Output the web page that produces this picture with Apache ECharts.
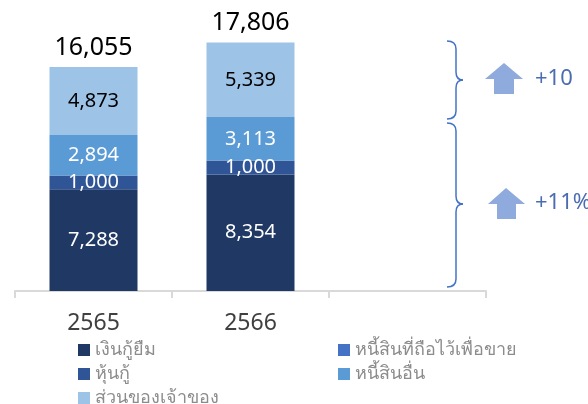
<!DOCTYPE html>
<html>
<head>
<meta charset="utf-8">
<script src="https://cdn.jsdelivr.net/npm/echarts@6/dist/echarts.min.js"></script>
<style>
  html, body { margin: 0; padding: 0; background: #fff; }
  #debt-chart { width: 588px; height: 404px; }
</style>
</head>
<body>
<div id="debt-chart"></div>
<script>
const years = ['2565', '2566', ''];
const loans = [7288, 8354];
const heldForSale = [0, 0];
const bonds = [1000, 1000];
const otherLiab = [2894, 3113];
const equity = [4873, 5339];
const totals = [16055, 17806];
const changeLabels = ['+10', '+11%'];

const FONT = "'Noto Sans', Roboto, sans-serif";
const fmt = (v) => Number(v).toLocaleString('en-US');

const chart = echarts.init(document.getElementById('debt-chart'));

function seg(name, data, color, labelColor, showLabel = true) {
  return {
    name,
    type: 'bar',
    stack: 'total',
    barWidth: 88,
    data,
    itemStyle: { color },
    label: {
      show: showLabel,
      position: 'inside',
      color: labelColor,
      fontSize: 20,
      fontFamily: FONT,
      formatter: (p) => fmt(p.value),
    },
  };
}

// curly brace on the right: x = stem, top/mid/bottom y
function brace(x, top, mid, bottom) {
  const st = { stroke: '#4472c4', lineWidth: 1.5, fill: 'none' };
  const r = 8;
  return [
    { type: 'bezierCurve', shape: { x1: x - 9, y1: top, cpx1: x, cpy1: top, x2: x, y2: top + r }, style: st },
    { type: 'line', shape: { x1: x, y1: top + r, x2: x, y2: mid - r }, style: st },
    { type: 'bezierCurve', shape: { x1: x, y1: mid - r, cpx1: x, cpy1: mid, x2: x + 7, y2: mid }, style: st },
    { type: 'bezierCurve', shape: { x1: x + 7, y1: mid, cpx1: x, cpy1: mid, x2: x, y2: mid + r }, style: st },
    { type: 'line', shape: { x1: x, y1: mid + r, x2: x, y2: bottom - r }, style: st },
    { type: 'bezierCurve', shape: { x1: x, y1: bottom - r, cpx1: x, cpy1: bottom, x2: x - 9, y2: bottom }, style: st },
  ];
}

// one legend per entry so the two columns line up like the original
function legendItem(name, left, top) {
  return {
    left,
    top,
    padding: 0,
    itemWidth: 12,
    itemHeight: 12,
    icon: 'rect',
    data: [name],
    textStyle: { color: '#8c8c8c', fontSize: 18, lineHeight: 12, fontFamily: FONT },
  };
}

chart.setOption({
  animation: false,
  grid: { left: 15, right: 102, top: 12, bottom: 113 },
  xAxis: {
    type: 'category',
    data: years,
    axisLine: { lineStyle: { color: '#d9d9d9', width: 2 } },
    axisTick: { show: true, length: 7, lineStyle: { color: '#d9d9d9', width: 2 } },
    axisLabel: {
      color: '#404040',
      fontSize: 23,
      fontFamily: FONT,
      margin: 21,
    },
  },
  yAxis: {
    type: 'value',
    min: 0,
    max: 20000,
    show: false,
  },
  legend: [
    legendItem('เงินกู้ยืม', 78, 341),
    legendItem('หุ้นกู้', 78, 365),
    legendItem('ส่วนของเจ้าของ', 78, 389),
    legendItem('หนี้สินที่ถือไว้เพื่อขาย', 338, 341),
    legendItem('หนี้สินอื่น', 338, 365),
  ],
  series: [
    seg('เงินกู้ยืม', loans, '#1f3864', '#fff'),
    seg('หนี้สินที่ถือไว้เพื่อขาย', heldForSale, '#4472c4', '#fff', false),
    seg('หุ้นกู้', bonds, '#2f5597', '#fff'),
    seg('หนี้สินอื่น', otherLiab, '#5b9bd5', '#fff'),
    seg('ส่วนของเจ้าของ', equity, '#9dc3e6', '#000'),
    {
      name: 'รวม',
      type: 'bar',
      stack: 'total',
      barWidth: 88,
      data: totals.map(() => 0),
      itemStyle: { color: 'transparent' },
      label: {
        show: true,
        position: 'top',
        distance: 7,
        color: '#000',
        fontSize: 25,
        fontFamily: FONT,
        formatter: (p) => fmt(totals[p.dataIndex]),
      },
    },
  ],
  graphic: [
    ...brace(456, 41, 80, 119),
    ...brace(456, 123, 204, 287),
    {
      type: 'polygon',
      shape: { points: [[504, 63], [523, 79], [514, 79], [514, 94], [494, 94], [494, 79], [485, 79]] },
      style: { fill: '#8faadc' },
    },
    {
      type: 'polygon',
      shape: { points: [[506, 188], [525, 204], [516, 204], [516, 219], [497, 219], [497, 204], [488, 204]] },
      style: { fill: '#8faadc' },
    },
    {
      type: 'text',
      left: 535,
      top: 68,
      style: { text: changeLabels[0], fill: '#4a6cb0', font: `22px ${FONT}` },
    },
    {
      type: 'text',
      left: 535,
      top: 192,
      style: { text: changeLabels[1], fill: '#4a6cb0', font: `22px ${FONT}` },
    },
  ],
});
</script>
</body>
</html>
